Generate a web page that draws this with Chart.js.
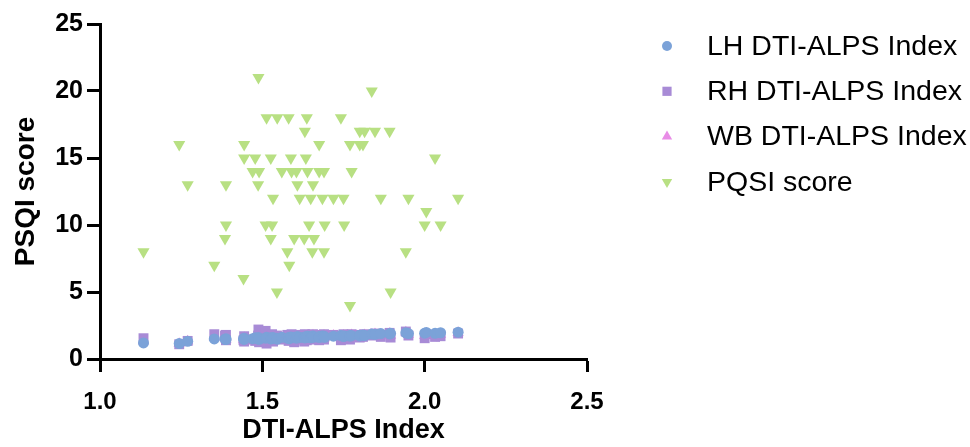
<!DOCTYPE html>
<html>
<head>
<meta charset="utf-8">
<script src="https://cdn.jsdelivr.net/npm/chart.js@4.4.0/dist/chart.umd.min.js"></script>
<style>
  body { margin: 0; background: #fff; }
  #wrap { width: 970px; height: 447px; }
</style>
</head>
<body>
<div id="wrap"><canvas id="scatterChart" width="970" height="447"></canvas></div>
<script>
// shared X column (DTI-ALPS index) and the four Y columns
var xIndex = [1.134, 1.244, 1.27, 1.352, 1.385, 1.388, 1.388, 1.442, 1.444, 1.444,
    1.47, 1.478, 1.487, 1.488, 1.49, 1.51, 1.513, 1.526, 1.526, 1.53,
    1.533, 1.545, 1.546, 1.56, 1.577, 1.581, 1.583, 1.588, 1.59, 1.598,
    1.605, 1.608, 1.615, 1.629, 1.631, 1.634, 1.637, 1.639, 1.644, 1.649,
    1.654, 1.656, 1.659, 1.675, 1.675, 1.685, 1.69, 1.69, 1.692, 1.719,
    1.742, 1.75, 1.752, 1.77, 1.77, 1.775, 1.80, 1.80, 1.81, 1.815,
    1.837, 1.847, 1.865, 1.892, 1.895, 1.942, 1.95, 2.0, 2.005, 2.032,
    2.049, 2.103];

var lhIndex = [1.20, 1.15, 1.32, 1.50, 1.48, 1.52, 1.45, 1.50, 1.55, 1.46,
    1.52, 1.58, 1.50, 1.60, 1.47, 1.55, 1.62, 1.50, 1.58, 1.53,
    1.60, 1.55, 1.48, 1.62, 1.55, 1.60, 1.52, 1.65, 1.58, 1.62,
    1.55, 1.68, 1.60, 1.63, 1.57, 1.66, 1.60, 1.70, 1.62, 1.58,
    1.66, 1.72, 1.63, 1.68, 1.60, 1.72, 1.65, 1.70, 1.62, 1.70,
    1.75, 1.68, 1.72, 1.76, 1.70, 1.74, 1.78, 1.72, 1.80, 1.75,
    1.86, 1.84, 1.90, 1.87, 1.92, 1.95, 1.90, 1.93, 1.98, 1.92,
    1.96, 2.00];

var rhIndex = [1.55, 1.10, 1.35, 1.85, 1.75, 1.40, 1.80, 1.40, 1.30, 1.70,
    1.45, 1.35, 1.75, 2.20, 1.25, 2.10, 1.15, 1.70, 1.40, 1.85,
    1.30, 1.75, 1.60, 1.45, 1.80, 1.35, 1.70, 1.50, 1.85, 1.25,
    1.75, 1.45, 1.80, 1.30, 1.85, 1.55, 1.40, 1.80, 1.50, 1.75,
    1.45, 1.85, 1.55, 1.40, 1.80, 1.50, 1.85, 1.45, 1.70, 1.80,
    1.40, 1.85, 1.55, 1.75, 1.45, 1.85, 1.60, 1.80, 1.65, 1.85,
    1.75, 1.90, 1.65, 1.95, 1.60, 2.05, 1.75, 1.55, 1.85, 1.65,
    1.70, 1.90];

var wbIndex = [1.35, 1.13, 1.33, 1.65, 1.60, 1.46, 1.60, 1.45, 1.42, 1.58,
    1.48, 1.46, 1.62, 1.88, 1.36, 1.82, 1.40, 1.60, 1.49, 1.68,
    1.45, 1.65, 1.54, 1.54, 1.67, 1.48, 1.61, 1.58, 1.70, 1.44,
    1.65, 1.56, 1.70, 1.47, 1.71, 1.60, 1.50, 1.75, 1.56, 1.66,
    1.55, 1.78, 1.59, 1.54, 1.70, 1.61, 1.75, 1.57, 1.66, 1.75,
    1.58, 1.76, 1.63, 1.75, 1.58, 1.80, 1.69, 1.76, 1.73, 1.80,
    1.80, 1.87, 1.77, 1.91, 1.76, 2.00, 1.82, 1.74, 1.91, 1.78,
    1.83, 1.95];

var psqiScore = [8, 16, 13, 7, 9, 13, 10, 6, 16, 15,
    14, 15, 13, 21, 14, 10, 18, 15, 9, 10,
    12, 5, 18, 14, 8, 18, 7, 15, 14, 9,
    14, 13, 12, 9, 17, 15, 18, 14, 10, 12,
    8, 13, 9, 16, 14, 12, 14, 8, 10, 12,
    18, 12, 10, 16, 4, 14, 17, 16, 16, 17,
    20, 17, 12, 17, 5, 8, 12, 10, 11, 15,
    10, 12];

var seriesNames = ['LH DTI-ALPS Index', 'RH DTI-ALPS Index', 'WB DTI-ALPS Index', 'PQSI score'];
var xTicks = [1.0, 1.5, 2.0, 2.5];
var yTicks = [0, 5, 10, 15, 20, 25];

var fontFamily = '"Liberation Sans", Arial, Helvetica, sans-serif';

function toPoints(yValues){
    var pts = [];
    for(var i = 0; i < xIndex.length; i++){
        pts.push({x: xIndex[i], y: yValues[i]});
    }
    return pts;
}

// legend drawn beside the plot, GraphPad style
var sideLegend = {
    id: 'sideLegend',
    afterDraw: function(chart){
        var ctx = chart.ctx;
        var markX = 667, textX = 707, top = 46, gap = 45.3;
        ctx.save();
        ctx.font = '28.5px ' + fontFamily;
        ctx.textBaseline = 'middle';
        ctx.textAlign = 'left';
        chart.data.datasets.forEach(function(ds, i){
            var y = top + i * gap;
            ctx.fillStyle = ds.backgroundColor;
            Chart.helpers.drawPoint(ctx, {
                pointStyle: ds.pointStyle,
                radius: ds.legendRadius,
                rotation: ds.pointRotation || 0,
                borderWidth: 0
            }, markX, y);
            ctx.fillStyle = '#000';
            ctx.fillText(ds.label, textX, y + 1);
        });
        ctx.restore();
    }
};

var ctx = document.getElementById('scatterChart').getContext('2d');
var chart = new Chart(ctx, {
    type: 'scatter',
    data: {
        datasets: [
            {label: seriesNames[0], data: toPoints(lhIndex), pointStyle: 'circle', pointRadius: 5.5,
             backgroundColor: '#7BA2D8', pointBorderWidth: 0, legendRadius: 5},
            {label: seriesNames[1], data: toPoints(rhIndex), pointStyle: 'rect', pointRadius: 7,
             backgroundColor: '#A88BD6', pointBorderWidth: 0, legendRadius: 6.5},
            {label: seriesNames[2], data: toPoints(wbIndex), pointStyle: 'triangle', pointRadius: 6.5,
             backgroundColor: '#E88CE6', pointBorderWidth: 0, legendRadius: 6},
            {label: seriesNames[3], data: toPoints(psqiScore), pointStyle: 'triangle', pointRadius: 7,
             pointRotation: 180, backgroundColor: '#B8E083', pointBorderWidth: 0, legendRadius: 6}
        ]
    },
    options: {
        responsive: false,
        animation: false,
        devicePixelRatio: 1,
        layout: { padding: {top: 24, right: 383, bottom: 0, left: 0} },
        plugins: {
            legend: { display: false },
            tooltip: { enabled: false }
        },
        scales: {
            x: {
                type: 'linear',
                min: 1.0,
                max: 2.5,
                afterFit: function(scale){ scale.height = 88; },
                afterBuildTicks: function(scale){
                    scale.ticks = xTicks.map(function(v){ return {value: v}; });
                },
                border: { display: true, color: '#000', width: 3 },
                grid: { drawOnChartArea: false, drawTicks: true, tickLength: 13, tickColor: '#000', tickWidth: 3 },
                ticks: {
                    color: '#000',
                    padding: 16,
                    font: { family: fontFamily, size: 24, weight: 'bold' },
                    callback: function(v){ return Number(v).toFixed(1); }
                },
                title: {
                    display: true,
                    text: 'DTI-ALPS Index',
                    color: '#000',
                    padding: {top: 0, bottom: 0},
                    font: { family: fontFamily, size: 27, weight: 'bold' }
                }
            },
            y: {
                min: 0,
                max: 25,
                afterFit: function(scale){ scale.width = 100; },
                afterBuildTicks: function(scale){
                    scale.ticks = yTicks.map(function(v){ return {value: v}; });
                },
                border: { display: true, color: '#000', width: 3 },
                grid: { drawOnChartArea: false, drawTicks: true, tickLength: 13, tickColor: '#000', tickWidth: 3 },
                ticks: {
                    color: '#000',
                    padding: 4,
                    font: { family: fontFamily, size: 25, weight: 'bold' }
                },
                title: {
                    display: true,
                    text: 'PSQI score',
                    color: '#000',
                    padding: {top: 9, bottom: 0},
                    font: { family: fontFamily, size: 28, weight: 'bold' }
                }
            }
        }
    },
    plugins: [sideLegend]
});
</script>
</body>
</html>
